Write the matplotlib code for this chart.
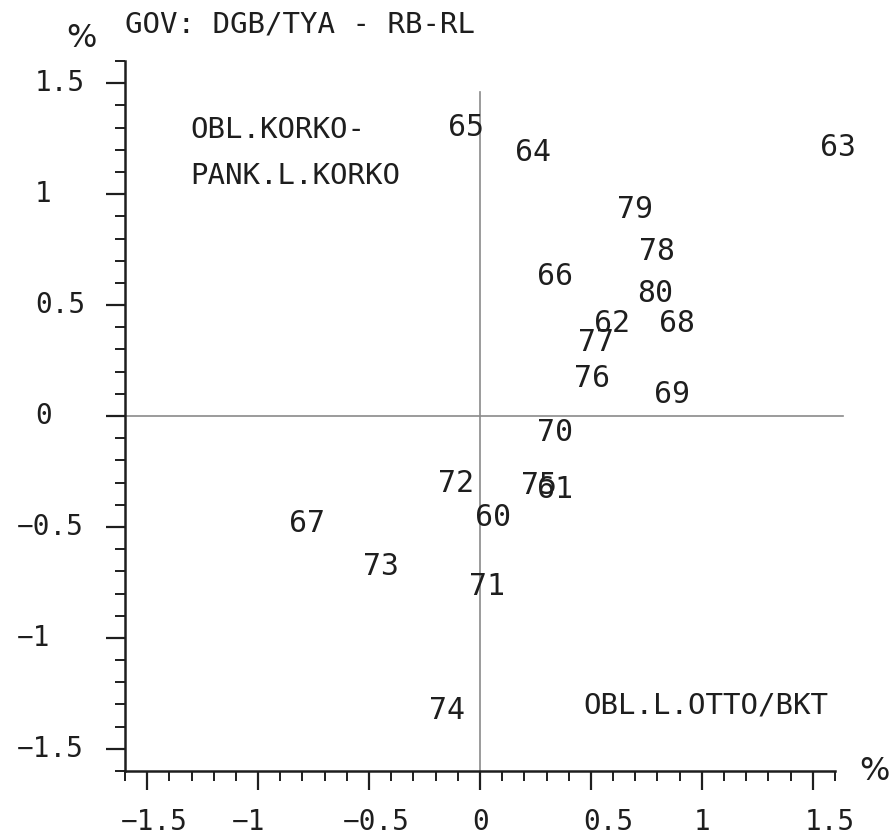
import numpy as np
import matplotlib
matplotlib.use("Agg")
import matplotlib.pyplot as plt
import matplotlib.transforms as mtransforms

# the original is a fixed-pitch plotter font, a mono face keeps the text widths
plt.rcParams['font.family'] = ['DejaVu Sans Mono', 'DejaVu Sans']

# data: year labels and their positions (%)
years = ['65', '64', '63', '79', '78', '66', '80', '62', '68', '77', '76',
         '69', '70', '72', '75', '61', '60', '67', '73', '71', '74']
x_vals = [-0.063, 0.239, 1.613, 0.698, 0.797, 0.338, 0.788, 0.595, 0.887, 0.523, 0.505,
          0.865, 0.338, -0.108, 0.266, 0.338, 0.059, -0.779, -0.446, 0.032, -0.149]
y_vals = [1.302, 1.189, 1.212, 0.932, 0.743, 0.631, 0.550, 0.419, 0.419, 0.333, 0.171,
          0.095, -0.072, -0.302, -0.315, -0.333, -0.459, -0.486, -0.676, -0.770, -1.329]

major_ticks = [-1.5, -1, -0.5, 0, 0.5, 1, 1.5]
tick_labels = ['\u22121.5', '\u22121', '\u22120.5', '0', '0.5', '1', '1.5']
minor_ticks = np.round(np.arange(-1.6, 1.61, 0.1), 1)

title = 'GOV: DGB/TYA - RB-RL'
ink = '#1e1e1e'

fig = plt.figure(figsize=(8.92, 8.38), dpi=100)
ax = fig.add_axes([0.1401, 0.0799, 0.796, 0.8473])
ax.set_xlim(-1.6, 1.6)
ax.set_ylim(-1.6, 1.6)

for s in ['top', 'right']:
    ax.spines[s].set_visible(False)
for s in ['left', 'bottom']:
    ax.spines[s].set_linewidth(1.8)
    ax.spines[s].set_color(ink)

# zero lines
ax.plot([0, 0], [-1.6, 1.46], color='#8a8a8a', lw=1.2, zorder=1)
ax.plot([-1.6, 1.635], [0, 0], color='#8a8a8a', lw=1.2, zorder=1, clip_on=False)

ax.set_xticks(major_ticks)
ax.set_yticks(major_ticks)
ax.set_xticks(minor_ticks, minor=True)
ax.set_yticks(minor_ticks, minor=True)
ax.set_xticklabels([])
ax.set_yticklabels([])
ax.tick_params(which='major', length=14, width=1.6, color=ink, direction='out')
ax.tick_params(which='minor', length=7, width=1.4, color=ink, direction='out')

fs_tick = 20
# x tick labels, left aligned like the plotter output
for v, lab in zip(major_ticks, tick_labels):
    dx = -8 if v >= 0 else -26
    tr = mtransforms.offset_copy(ax.get_xaxis_transform(), fig=fig, x=dx, y=-37, units='dots')
    ax.text(v, 0, lab, transform=tr, ha='left', va='top', fontsize=fs_tick, color=ink)
# y tick labels
for v, lab in zip(major_ticks, tick_labels):
    dx = -90 if v >= 0 else -108
    tr = mtransforms.offset_copy(ax.get_yaxis_transform(), fig=fig, x=dx, y=0, units='dots')
    ax.text(0, v, lab, transform=tr, ha='left', va='center', fontsize=fs_tick, color=ink)

# year labels
for lab, x, y in zip(years, x_vals, y_vals):
    ax.text(x, y, lab, ha='center', va='center', fontsize=21.5, color=ink, clip_on=False)

fs_note = 21
pct = dict(ha='center', va='center', fontsize=23, color=ink,
           family=['DejaVu Sans'], transform=ax.transAxes)
ax.text(-0.061, 1.031, '%', **pct)
ax.text(1.055, 0.0, '%', **pct)
ax.text(0.0, 1.051, title, transform=ax.transAxes, ha='left', va='center', fontsize=21, color=ink)
ax.text(0.0915, 0.903, 'OBL.KORKO-', transform=ax.transAxes, ha='left', va='center', fontsize=fs_note, color=ink)
ax.text(0.0915, 0.838, 'PANK.L.KORKO', transform=ax.transAxes, ha='left', va='center', fontsize=fs_note, color=ink)
ax.text(0.645, 0.093, 'OBL.L.OTTO/BKT', transform=ax.transAxes, ha='left', va='center', fontsize=fs_note, color=ink)

fig.savefig('out.png', dpi=100, facecolor='white')
